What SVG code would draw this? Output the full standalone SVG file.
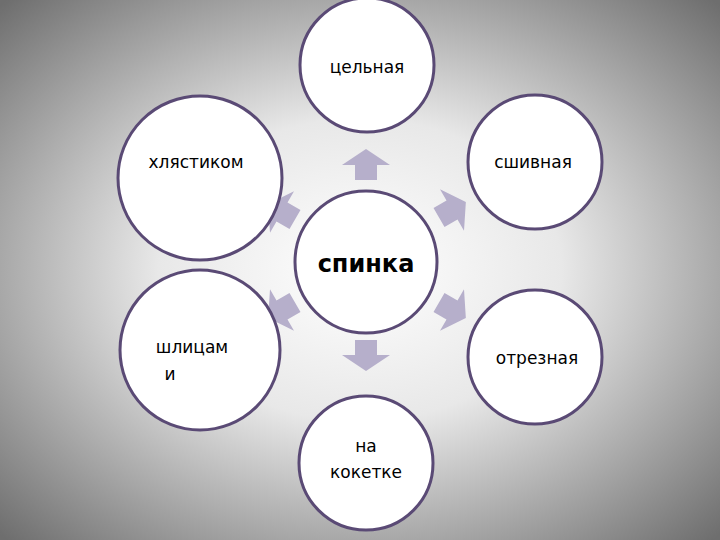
<svg xmlns="http://www.w3.org/2000/svg" width="720" height="540" viewBox="0 0 720 540">
<defs>
<radialGradient id="bg" cx="50%" cy="50%" r="70%">
<stop offset="0" stop-color="#ffffff"/><stop offset="0.4" stop-color="#e8e8e8"/><stop offset="1" stop-color="#6e6e6e"/>
</radialGradient>
<path id="arr" d="M-11,15 L-11,0 L-24,0 L0,-16 L24,0 L11,0 L11,15 Z"/>
</defs>
<style>
.c{fill:#fff;stroke:#5a4a75;stroke-width:3}
.a{fill:#b6afcb}
text{font-family:"DejaVu Sans","Liberation Sans",sans-serif;font-size:17px;fill:#000;text-anchor:middle}
</style>
<rect width="720" height="540" fill="url(#bg)"/>
<g id="connectors">
<use href="#arr" class="a" transform="translate(366,165)"/>
<use href="#arr" class="a" transform="translate(366,355) rotate(180)"/>
<use href="#arr" class="a" transform="translate(452,210) rotate(60)"/>
<use href="#arr" class="a" transform="translate(282,212) rotate(-60)"/>
<use href="#arr" class="a" transform="translate(282,310) rotate(-120)"/>
<use href="#arr" class="a" transform="translate(452,310) rotate(120)"/>
</g>
<g id="center"><circle class="c" cx="366" cy="262" r="71"/><text x="366" y="272" style="font-size:24px;font-weight:bold">спинка</text></g>
<g id="top"><circle class="c" cx="367" cy="65" r="67"/><text x="367" y="73">цельная</text></g>
<g id="lt"><circle class="c" cx="200" cy="178" r="82"/><text x="196" y="168">хлястиком</text></g>
<g id="rt"><circle class="c" cx="535" cy="162" r="67"/><text x="533" y="168">сшивная</text></g>
<g id="lb"><circle class="c" cx="200" cy="350" r="80"/><text x="192" y="353">шлицам</text><text x="170" y="380">и</text></g>
<g id="rb"><circle class="c" cx="535" cy="357" r="67"/><text x="537" y="364">отрезная</text></g>
<g id="bottom"><circle class="c" cx="366" cy="463" r="67"/><text x="366" y="452">на</text><text x="366" y="478">кокетке</text></g>
</svg>
